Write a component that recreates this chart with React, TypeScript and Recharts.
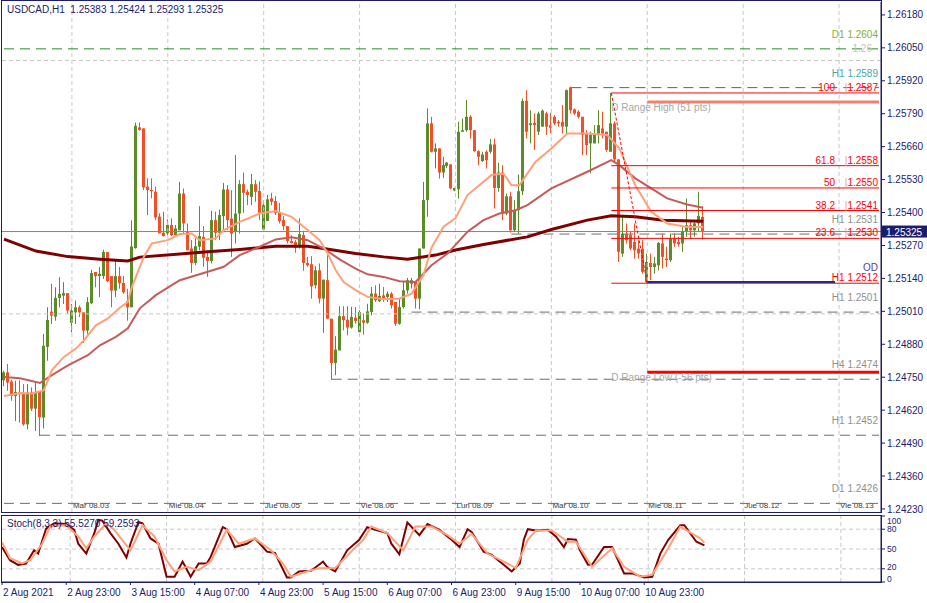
import React from 'react';
import { ComposedChart, Bar, Line, XAxis, YAxis, ReferenceLine } from 'recharts';

const FONT = "'Liberation Sans', Arial, sans-serif";
const NAVY = '#1c1c6e';
const UP = '#5a8c2a';
const DOWN = '#f34e25';
const GRID = '#c8c8c8';
const LEVEL_GRAY = '#6e6e6e';
const LEVEL_GREEN = '#2a8a2a';

// ---- data ----
const chartTitle = 'USDCAD,H1  1.25383 1.25424 1.25293 1.25325';
const stochTitle = 'Stoch(8,3,3) 55.5270 59.2593';

// H1 candles, first bar 2 Aug 2021 07:00
const opens = [
  1.24738, 1.24769, 1.24733, 1.24676, 1.2469, 1.24686, 1.24564, 1.2469, 1.24626, 1.24692,
  1.24591, 1.2487, 1.25009, 1.24989, 1.25063, 1.25072, 1.25082, 1.24964, 1.25006, 1.25026,
  1.25006, 1.24934, 1.25042, 1.25165, 1.25149, 1.25149, 1.25244, 1.25149, 1.25092, 1.25149,
  1.25122, 1.2505, 1.25026, 1.2526, 1.25736, 1.25732, 1.25502, 1.25489, 1.25482, 1.25384,
  1.2532, 1.25318, 1.25351, 1.25311, 1.2533, 1.25475, 1.25324, 1.25258, 1.25201, 1.25265,
  1.25304, 1.25225, 1.25209, 1.2537, 1.2532, 1.25386, 1.25491, 1.25376, 1.25324, 1.25396,
  1.25512, 1.25482, 1.25462, 1.25512, 1.25485, 1.25333, 1.25367, 1.25456, 1.25445, 1.25399,
  1.2537, 1.25346, 1.25288, 1.25284, 1.25265, 1.25311, 1.25201, 1.25196, 1.25113, 1.25172,
  1.2506, 1.25133, 1.24981, 1.24806, 1.24856, 1.24991, 1.24977, 1.24946, 1.24985, 1.24928,
  1.24975, 1.24965, 1.25007, 1.2508, 1.2505, 1.25073, 1.25067, 1.2508, 1.25047, 1.24961,
  1.25027, 1.25093, 1.25119, 1.25126, 1.2506, 1.25258, 1.25449, 1.25752, 1.2564, 1.25653,
  1.25558, 1.25584, 1.2559, 1.25487, 1.25492, 1.25719, 1.25725, 1.25778, 1.25725, 1.25642,
  1.25603, 1.2564, 1.2564, 1.25669, 1.25497, 1.25558, 1.25396, 1.25464, 1.2533, 1.25409,
  1.25484, 1.25841, 1.25745, 1.25754, 1.25719, 1.25739, 1.25791, 1.25745, 1.25778, 1.25758,
  1.25758, 1.25739, 1.25894, 1.25807, 1.25798, 1.25778, 1.25712, 1.25673, 1.25673, 1.25706,
  1.25732, 1.25719, 1.2564, 1.25752, 1.2561, 1.25238, 1.25315, 1.25311, 1.25284, 1.25258,
  1.25258, 1.25126, 1.25201, 1.25185, 1.25192, 1.25278, 1.25218, 1.25212, 1.25298, 1.25284,
  1.25278, 1.25324, 1.2535, 1.2533, 1.25357, 1.25383,
];
const highs = [
  1.24775, 1.24802, 1.2474, 1.24736, 1.24738, 1.24723, 1.24723, 1.2471, 1.24729, 1.24692,
  1.24921, 1.25026, 1.25119, 1.25105, 1.25145, 1.25125, 1.25082, 1.25039, 1.25053, 1.25033,
  1.25006, 1.25066, 1.25174, 1.25165, 1.25185, 1.25253, 1.25244, 1.25149, 1.25211, 1.25185,
  1.25149, 1.25099, 1.25369, 1.25755, 1.25755, 1.25732, 1.25535, 1.25535, 1.25502, 1.25397,
  1.25403, 1.25373, 1.25377, 1.25351, 1.25521, 1.25495, 1.25357, 1.25291, 1.25298, 1.25425,
  1.25346, 1.25251, 1.25407, 1.25403, 1.25412, 1.25517, 1.25508, 1.25488, 1.25627, 1.25528,
  1.25558, 1.25491, 1.25552, 1.25528, 1.25523, 1.25449, 1.25469, 1.25478, 1.25465, 1.25438,
  1.25386, 1.25346, 1.25311, 1.25291, 1.25377, 1.25328, 1.25225, 1.25228, 1.25188, 1.25199,
  1.25135, 1.25232, 1.24981, 1.24912, 1.2503, 1.2503, 1.2503, 1.25028, 1.25027, 1.25014,
  1.25001, 1.2504, 1.25106, 1.25113, 1.25119, 1.25106, 1.25089, 1.25086, 1.25047, 1.2506,
  1.25126, 1.25142, 1.25142, 1.25126, 1.25258, 1.25521, 1.25811, 1.25778, 1.25673, 1.25653,
  1.2562, 1.256, 1.2559, 1.25498, 1.25758, 1.25771, 1.25844, 1.25784, 1.25725, 1.25646,
  1.2564, 1.25646, 1.2569, 1.25692, 1.25597, 1.25587, 1.25475, 1.25482, 1.25449, 1.2555,
  1.2585, 1.25883, 1.25804, 1.25791, 1.25798, 1.25807, 1.25798, 1.25794, 1.25785, 1.25765,
  1.25824, 1.25886, 1.25897, 1.25811, 1.25804, 1.25778, 1.25725, 1.25719, 1.25745, 1.25804,
  1.25798, 1.25719, 1.25872, 1.2576, 1.2561, 1.2539, 1.25357, 1.25324, 1.25357, 1.25291,
  1.25291, 1.25238, 1.25238, 1.25225, 1.25284, 1.25317, 1.25265, 1.25317, 1.25317, 1.25304,
  1.25344, 1.25455, 1.25363, 1.25363, 1.25482, 1.25424,
];
const lows = [
  1.24714, 1.24696, 1.24657, 1.24577, 1.24571, 1.24558, 1.24544, 1.24617, 1.24538, 1.24518,
  1.24548, 1.24815, 1.2496, 1.24973, 1.25026, 1.25039, 1.25, 1.24927, 1.2496, 1.24987,
  1.24885, 1.24921, 1.25039, 1.25105, 1.25066, 1.25138, 1.25125, 1.25026, 1.25066, 1.25099,
  1.25079, 1.24973, 1.25026, 1.25257, 1.25723, 1.25489, 1.2539, 1.25456, 1.2537, 1.25318,
  1.25305, 1.25311, 1.25307, 1.25307, 1.2533, 1.25317, 1.25251, 1.25162, 1.25192, 1.25251,
  1.25186, 1.25146, 1.25199, 1.25291, 1.25291, 1.2533, 1.2533, 1.25225, 1.25278, 1.25317,
  1.25399, 1.25429, 1.25429, 1.25442, 1.2537, 1.2533, 1.25367, 1.25429, 1.2539, 1.25357,
  1.2533, 1.25278, 1.25278, 1.25241, 1.25258, 1.2517, 1.25186, 1.2506, 1.251, 1.25041,
  1.24925, 1.24981, 1.2474, 1.24758, 1.24856, 1.24935, 1.24916, 1.24942, 1.24961, 1.24928,
  1.24918, 1.24961, 1.24994, 1.25047, 1.25047, 1.25047, 1.25047, 1.25021, 1.24952, 1.24957,
  1.25021, 1.2508, 1.251, 1.25021, 1.25018, 1.25258, 1.25383, 1.25637, 1.25574, 1.25534,
  1.25537, 1.25576, 1.25492, 1.25484, 1.25455, 1.25719, 1.25719, 1.25692, 1.2564, 1.25587,
  1.256, 1.25574, 1.25633, 1.25416, 1.25482, 1.2537, 1.25389, 1.25321, 1.25324, 1.25317,
  1.25469, 1.25693, 1.25673, 1.25647, 1.25706, 1.25739, 1.25706, 1.25712, 1.25745, 1.25739,
  1.25712, 1.25712, 1.25791, 1.25785, 1.25771, 1.25627, 1.25627, 1.25554, 1.25673, 1.25673,
  1.25693, 1.2564, 1.2564, 1.256, 1.25205, 1.25225, 1.25278, 1.25251, 1.25218, 1.25218,
  1.25159, 1.25121, 1.25133, 1.25159, 1.25172, 1.25179, 1.25185, 1.25205, 1.25265, 1.25265,
  1.25245, 1.25304, 1.25297, 1.25304, 1.25324, 1.25293,
];
const closes = [
  1.24769, 1.24729, 1.24676, 1.24692, 1.24683, 1.24564, 1.2469, 1.24626, 1.24692, 1.24593,
  1.24874, 1.24976, 1.24993, 1.25063, 1.25079, 1.25082, 1.25013, 1.25013, 1.25026, 1.25006,
  1.24934, 1.25046, 1.25161, 1.25149, 1.25158, 1.25244, 1.25129, 1.25092, 1.25149, 1.25121,
  1.25085, 1.25026, 1.25266, 1.25742, 1.25726, 1.25499, 1.25489, 1.25486, 1.25381, 1.25318,
  1.25307, 1.25351, 1.25311, 1.25337, 1.25475, 1.25357, 1.25251, 1.25201, 1.25267, 1.25307,
  1.25222, 1.25209, 1.2537, 1.2532, 1.2539, 1.25491, 1.2537, 1.25317, 1.25396, 1.25512,
  1.25478, 1.25469, 1.25512, 1.25482, 1.25399, 1.25429, 1.25452, 1.25442, 1.25399, 1.25366,
  1.25346, 1.25288, 1.2528, 1.25262, 1.25315, 1.25201, 1.25192, 1.25109, 1.25172, 1.2506,
  1.25135, 1.24981, 1.24806, 1.24859, 1.24991, 1.24975, 1.24946, 1.24988, 1.24972, 1.25007,
  1.24965, 1.2501, 1.2508, 1.25054, 1.25071, 1.2506, 1.2508, 1.25034, 1.24961, 1.25027,
  1.25093, 1.25133, 1.25133, 1.2506, 1.25258, 1.25449, 1.25752, 1.2564, 1.25653, 1.25558,
  1.25587, 1.25597, 1.25495, 1.25497, 1.25719, 1.25725, 1.25778, 1.25725, 1.25642, 1.2562,
  1.25629, 1.25607, 1.25669, 1.25497, 1.25558, 1.25396, 1.25464, 1.2533, 1.25409, 1.25484,
  1.2584, 1.25719, 1.25752, 1.25745, 1.25791, 1.25802, 1.25739, 1.25735, 1.25752, 1.25752,
  1.25739, 1.25883, 1.25804, 1.25791, 1.25778, 1.25706, 1.25666, 1.25706, 1.25712, 1.25745,
  1.25712, 1.25647, 1.25752, 1.2561, 1.25245, 1.25317, 1.25291, 1.25258, 1.25251, 1.25238,
  1.25166, 1.25205, 1.25185, 1.25199, 1.2528, 1.25225, 1.25212, 1.25298, 1.25278, 1.25275,
  1.25324, 1.2535, 1.2533, 1.25357, 1.25386, 1.25325,
];

// moving averages: [bar index, price]
const fastMa: [number, number][] = [
  [0, 1.24676], [4, 1.24688], [7, 1.24686], [10, 1.24699], [12, 1.24778], [15, 1.2483], [18, 1.24863],
  [20, 1.24896], [23, 1.24955], [26, 1.24982], [29, 1.25024], [31, 1.25047], [32, 1.25106], [35, 1.25225],
  [37, 1.25278], [41, 1.25291], [44, 1.25315], [47, 1.25317], [49, 1.25291], [53, 1.25298], [55, 1.25331],
  [59, 1.25363], [64, 1.25396], [68, 1.25406], [72, 1.25383], [76, 1.25331], [79, 1.25291], [81, 1.25239],
  [83, 1.25173], [85, 1.25126], [88, 1.25094], [91, 1.25067], [95, 1.25058], [99, 1.25061], [102, 1.2508],
  [105, 1.25153], [107, 1.25261], [110, 1.25344], [113, 1.25377], [116, 1.25469], [120, 1.25521],
  [122, 1.25548], [125, 1.25554], [127, 1.25508], [129, 1.25508], [133, 1.256], [137, 1.25653],
  [141, 1.25712], [146, 1.25712], [151, 1.25706], [154, 1.25653], [158, 1.25508], [162, 1.25403],
  [166, 1.25357], [171, 1.25343], [175, 1.25343],
];
const midMa: [number, number][] = [
  [0, 1.24751], [4, 1.24746], [9, 1.24727], [12, 1.24758], [16, 1.24797], [21, 1.24837], [24, 1.24876],
  [28, 1.24909], [31, 1.24943], [34, 1.25022], [38, 1.25074], [44, 1.25133], [51, 1.25166], [55, 1.25186],
  [59, 1.25232], [64, 1.25265], [68, 1.25294], [72, 1.25302], [76, 1.25291], [80, 1.25258], [84, 1.25215],
  [88, 1.25179], [91, 1.25156], [95, 1.25146], [99, 1.25129], [103, 1.25126], [107, 1.25192],
  [111, 1.25238], [116, 1.25324], [120, 1.2537], [124, 1.25396], [128, 1.25409], [131, 1.25429],
  [137, 1.25495], [146, 1.25561], [152, 1.25607], [154, 1.25587], [158, 1.25535], [162, 1.25495],
  [166, 1.25456], [171, 1.25432], [175, 1.25419],
];
const slowMa: [number, number][] = [
  [0, 1.25295], [8, 1.25248], [16, 1.25226], [24, 1.25216], [31, 1.25209], [34, 1.25224], [44, 1.25236],
  [51, 1.25245], [59, 1.25254], [68, 1.25267], [76, 1.25267], [80, 1.25258], [88, 1.25238], [95, 1.25225],
  [101, 1.25216], [108, 1.25232], [113, 1.25252], [120, 1.25274], [131, 1.25304], [137, 1.25333],
  [146, 1.2537], [152, 1.25387], [158, 1.25383], [165, 1.2537], [175, 1.25366],
];

const stochK: [number, number][] = [
  [0, 53], [2, 33], [4, 26], [6, 28], [8, 48], [9, 43], [11, 81], [13, 89], [16, 88], [18, 79], [19, 58],
  [21, 43], [23, 74], [24, 94], [25, 93], [27, 74], [29, 58], [31, 37], [32, 58], [34, 91], [35, 89],
  [37, 66], [39, 58], [41, 8], [43, 8], [45, 31], [47, 8], [49, 28], [51, 28], [52, 38], [55, 83],
  [56, 80], [58, 53], [61, 58], [63, 66], [65, 53], [66, 46], [68, 44], [71, 7], [72, 7], [74, 16],
  [77, 17], [80, 31], [81, 23], [83, 16], [86, 48], [89, 64], [91, 83], [93, 79], [96, 74], [97, 58],
  [99, 42], [101, 90], [104, 71], [106, 88], [109, 79], [112, 64], [114, 53], [116, 80], [117, 76],
  [120, 46], [122, 41], [125, 26], [127, 16], [129, 28], [130, 64], [131, 80], [133, 78], [136, 79],
  [138, 69], [140, 53], [141, 65], [143, 64], [144, 48], [146, 26], [147, 26], [150, 53], [152, 53],
  [155, 13], [157, 13], [160, 7], [162, 8], [164, 43], [166, 64], [169, 86], [170, 86], [173, 61],
  [175, 55.527],
];
const stochD: [number, number][] = [
  [0, 60], [2, 36], [5, 28], [7, 33], [10, 58], [12, 84], [16, 86], [19, 69], [21, 51], [23, 69], [26, 89],
  [28, 79], [32, 48], [35, 86], [38, 69], [41, 33], [43, 16], [46, 23], [49, 18], [52, 31], [56, 79],
  [59, 58], [63, 66], [67, 48], [70, 28], [72, 8], [76, 16], [79, 21], [83, 21], [87, 46], [90, 64],
  [92, 84], [96, 74], [100, 48], [103, 84], [107, 84], [111, 71], [114, 58], [117, 73], [121, 43],
  [126, 28], [128, 21], [131, 64], [133, 78], [137, 78], [141, 61], [143, 61], [147, 23], [152, 51],
  [155, 23], [159, 8], [162, 11], [166, 51], [169, 84], [174, 66], [175, 59.2593],
];

const priceTicks = [
  1.2423, 1.2436, 1.2449, 1.2462, 1.2475, 1.2488, 1.2501, 1.2514, 1.2527, 1.254, 1.2553, 1.2566,
  1.2579, 1.2592, 1.2605, 1.2618,
];
const roundPrices = [1.25, 1.26];
const stochTicks = [0, 20, 50, 80, 100];
const stochLevels = [20, 50, 80];
const timeTickIdx = [0, 16, 32, 48, 64, 80, 96, 112, 128, 144, 160];
const timeLabels = [
  '2 Aug 2021', '2 Aug 23:00', '3 Aug 15:00', '4 Aug 07:00', '4 Aug 23:00', '5 Aug 15:00',
  '6 Aug 07:00', '6 Aug 23:00', '9 Aug 15:00', '10 Aug 07:00', '10 Aug 23:00',
];
const dayIdx = [17, 41, 65, 89, 113, 137, 161, 185, 209];
const dayNames = [
  'Mar 08.03', 'Mie 08.04', 'Jue 08.05', 'Vie 08.06', 'Lun 08.09', 'Mar 08.10', 'Mie 08.11',
  'Jue 08.12', 'Vie 08.13',
];

// support / resistance levels
const levelNames = ['D1 1.2604', 'H1 1.2589', 'H1 1.2531', 'H1 1.2501', 'H4 1.2474', 'H1 1.2452', 'D1 1.2426'];
const levelPrices = [1.26046, 1.25893, 1.25315, 1.25007, 1.24742, 1.24521, 1.24252];
const levelStart = [0, 142, 127, 102, 82, 9, 0];

// fibonacci retracement from the 10 Aug high to the 11 Aug low
const fibRatios = ['100', '61.8', '50', '38.2', '23.6', '0'];
const fibPrices = [1.25872, 1.25585, 1.25497, 1.25408, 1.25298, 1.25121];
const fibTexts = ['1.2587', '1.2558', '1.2550', '1.2541', '1.2530', '1.2512'];
const FIB_FROM = 152;
const FIB_TO = 161;

const rangeNames = ['D Range High (51 pts)', 'D Range Low (-56 pts)'];
const rangePrices = [1.25836, 1.2477];
const RANGE_FROM = 161;
const OD_PRICE = 1.25126;
const OD_TO = 208;
const BID = 1.25325;

const SLOTS = 220;
const LAST = SLOTS - 1;
const PRICE_MIN = 1.24218;
const PRICE_MAX = 1.26231;

const fastMap = new Map(fastMa);
const midMap = new Map(midMa);
const slowMap = new Map(slowMa);
const kMap = new Map(stochK);
const dMap = new Map(stochD);

const rows = Array.from({ length: SLOTS }, (_, i) => {
  const has = i < closes.length;
  return {
    i,
    range: has ? [lows[i], highs[i]] : null,
    open: has ? opens[i] : null,
    high: has ? highs[i] : null,
    low: has ? lows[i] : null,
    close: has ? closes[i] : null,
    fast: fastMap.get(i) ?? null,
    mid: midMap.get(i) ?? null,
    slow: slowMap.get(i) ?? null,
  };
});

const stochRows = Array.from({ length: SLOTS }, (_, i) => ({
  i,
  k: kMap.get(i) ?? null,
  d: dMap.get(i) ?? null,
}));

function Candle(props: any) {
  const { x, y, width, height, payload } = props;
  if (!payload || payload.close == null || !isFinite(y) || !isFinite(height)) return null;
  const { open, close, high, low } = payload;
  const top = Math.min(y, y + height);
  const bot = Math.max(y, y + height);
  const span = high - low || 1;
  const toY = (v: number) => top + ((high - v) / span) * (bot - top);
  const cx = Math.floor(x + width / 2) + 0.5;
  const color = close >= open ? UP : DOWN;
  const yo = toY(open);
  const yc = toY(close);
  const bt = Math.min(yo, yc);
  const bh = Math.max(1, Math.abs(yc - yo));
  return (
    <g>
      <line x1={cx} x2={cx} y1={top} y2={bot} stroke={color} strokeWidth={1} />
      <rect x={cx - 1.5} y={bt} width={3} height={bh} fill={color} />
    </g>
  );
}

function EdgeText({ viewBox, text, color, dy, inset = 3, extra }: any) {
  if (!viewBox) return null;
  const r = viewBox.x + viewBox.width - inset;
  return (
    <g fontFamily={FONT} fontSize={10}>
      {extra && (
        <text x={r - 6} y={viewBox.y + 3.5} textAnchor="end" fill="#c4c4c4">
          {extra}
        </text>
      )}
      <text x={r} y={viewBox.y + dy} textAnchor="end" fill={color}>
        {text}
      </text>
    </g>
  );
}

function FibText({ viewBox, ratio, price, zero }: any) {
  if (!viewBox) return null;
  const r = viewBox.x + viewBox.width - 1;
  const y = viewBox.y - 2;
  if (zero) {
    return (
      <g fontFamily={FONT} fontSize={10}>
        <text x={r} y={y} textAnchor="end" fill="#ff0000">{`H1 ${price}`}</text>
        <text x={r} y={y - 10} textAnchor="end" fill="#5a3d9a">OD</text>
      </g>
    );
  }
  return (
    <g fontFamily={FONT} fontSize={10}>
      <text x={r - 43} y={y} textAnchor="end" fill="#ff0000">{ratio}</text>
      <text x={r - 32} y={y} textAnchor="middle" fill="#ffa040">|</text>
      <text x={r} y={y} textAnchor="end" fill="#ff0000">{price}</text>
    </g>
  );
}

function LeftText({ viewBox, text }: any) {
  if (!viewBox) return null;
  return (
    <text x={viewBox.x} y={viewBox.y + 8.5} fill="#a8a8a8" fontSize={10} fontFamily={FONT}>
      {text}
    </text>
  );
}

function PriceBox({ viewBox, text }: any) {
  if (!viewBox) return null;
  const x = viewBox.x + viewBox.width + 1;
  const y = viewBox.y;
  return (
    <g>
      <rect x={x} y={y - 6} width={46} height={12} fill={NAVY} />
      <text x={x + 4} y={y + 4} fill="#ffffff" fontSize={10} fontFamily={FONT}>
        {text}
      </text>
    </g>
  );
}

function DayText({ viewBox, text }: any) {
  if (!viewBox) return null;
  return (
    <text x={viewBox.x + 1} y={viewBox.y + viewBox.height - 4} fill="#404040" fontSize={8} fontFamily={FONT}>
      {text}
    </text>
  );
}

function TimeTick({ x, y, payload }: any) {
  const label = timeLabels[timeTickIdx.indexOf(payload.value)];
  return (
    <text x={x + 1} y={y + 9} fill={NAVY} fontSize={10} fontFamily={FONT}>
      {label}
    </text>
  );
}

function StochTick({ x, y, payload }: any) {
  const v = payload.value;
  const dy = v === 100 ? 4.5 : v === 0 ? -3.5 : v === 20 ? -1.5 : 0;
  return (
    <text x={x} y={y + dy + 3} fill={NAVY} fontSize={8.5} fontFamily={FONT}>
      {v}
    </text>
  );
}

export default function App() {
  return (
    <div
      style={{
        position: 'absolute',
        left: 0,
        top: 0,
        width: 927,
        height: 603,
        background: '#ffffff',
        overflow: 'hidden',
        fontFamily: FONT,
      }}
    >
      <ComposedChart width={927} height={514} data={rows} margin={{ top: 2, right: 0, bottom: 2, left: 2 }}>
        <XAxis dataKey="i" type="category" hide />
        <YAxis
          orientation="right"
          width={46}
          type="number"
          domain={[PRICE_MIN, PRICE_MAX]}
          allowDataOverflow
          ticks={priceTicks}
          interval={0}
          tickFormatter={(v: number) => v.toFixed(5)}
          tick={{ fill: NAVY, fontSize: 10, fontFamily: FONT }}
          tickSize={4}
          tickMargin={2}
          tickLine={{ stroke: NAVY }}
          axisLine={{ stroke: NAVY }}
        />
        {dayIdx.map((d, k) => (
          <ReferenceLine
            key={`day${d}`}
            x={d}
            stroke={GRID}
            strokeDasharray="4 3"
            label={<DayText text={dayNames[k]} />}
          />
        ))}
        {roundPrices.map((p) => (
          <ReferenceLine key={`rp${p}`} y={p} stroke={GRID} strokeDasharray="4 3" />
        ))}
        <ReferenceLine y={BID} stroke="#7a8890" strokeWidth={1} label={<PriceBox text={BID.toFixed(5)} />} />
        {levelPrices.map((p, k) => (
          <ReferenceLine
            key={`lvl${k}`}
            segment={[
              { x: levelStart[k], y: p },
              { x: LAST, y: p },
            ]}
            ifOverflow="visible"
            stroke={k < 2 ? LEVEL_GREEN : LEVEL_GRAY}
            strokeDasharray="10 6"
            label={
              <EdgeText
                text={levelNames[k]}
                color={k === 0 ? '#86ae2e' : k === 1 ? '#4aa8a0' : '#909090'}
                dy={-11}
                inset={1}
                extra={k === 0 ? '1.26' : undefined}
              />
            }
          />
        ))}
        <Bar dataKey="range" barSize={3} isAnimationActive={false} shape={(p: any) => <Candle {...p} />} />
        <Line dataKey="slow" stroke="#800000" strokeWidth={3} dot={false} connectNulls isAnimationActive={false} />
        <Line dataKey="mid" stroke="#c85a5a" strokeWidth={2} dot={false} connectNulls isAnimationActive={false} />
        <Line dataKey="fast" stroke="#ffa07a" strokeWidth={2} dot={false} connectNulls isAnimationActive={false} />
        {fibPrices.map((p, k) => (
          <ReferenceLine
            key={`fib${k}`}
            segment={[
              { x: FIB_FROM, y: p },
              { x: LAST, y: p },
            ]}
            ifOverflow="visible"
            stroke="#ff0000"
            strokeWidth={1}
            label={<FibText ratio={fibRatios[k]} price={fibTexts[k]} zero={k === fibPrices.length - 1} />}
          />
        ))}
        <ReferenceLine
          segment={[
            { x: FIB_FROM, y: fibPrices[0] },
            { x: FIB_TO, y: fibPrices[fibPrices.length - 1] },
          ]}
          ifOverflow="visible"
          stroke="#ff0000"
          strokeDasharray="3 2"
        />
        <ReferenceLine
          segment={[
            { x: RANGE_FROM, y: OD_PRICE },
            { x: OD_TO, y: OD_PRICE },
          ]}
          ifOverflow="visible"
          stroke="#3c1e8c"
          strokeWidth={2}
        />
        {rangePrices.map((p, k) => (
          <ReferenceLine
            key={`rng${k}`}
            segment={[
              { x: RANGE_FROM, y: p },
              { x: LAST, y: p },
            ]}
            ifOverflow="visible"
            stroke={k === 0 ? '#f08070' : '#ff0000'}
            strokeWidth={3}
          />
        ))}
        {rangePrices.map((p, k) => (
          <ReferenceLine
            key={`rngl${k}`}
            segment={[
              { x: FIB_FROM, y: p },
              { x: LAST, y: p },
            ]}
            ifOverflow="visible"
            stroke="none"
            strokeOpacity={0}
            label={<LeftText text={rangeNames[k]} />}
          />
        ))}
      </ComposedChart>

      <div style={{ position: 'absolute', left: 0, top: 514 }}>
        <ComposedChart width={927} height={89} data={stochRows} margin={{ top: 2, right: 0, bottom: 0, left: 2 }}>
          <XAxis
            dataKey="i"
            type="category"
            ticks={timeTickIdx}
            interval={0}
            height={21}
            tick={<TimeTick />}
            tickSize={3}
            tickLine={{ stroke: NAVY }}
            axisLine={{ stroke: NAVY }}
          />
          <YAxis
            orientation="right"
            width={46}
            type="number"
            domain={[0, 100]}
            ticks={stochTicks}
            interval={0}
            tick={<StochTick />}
            tickSize={4}
            tickMargin={2}
            tickLine={{ stroke: NAVY }}
            axisLine={{ stroke: NAVY }}
          />
          {dayIdx.map((d) => (
            <ReferenceLine key={`sday${d}`} x={d} stroke={GRID} strokeDasharray="4 3" />
          ))}
          {stochLevels.map((v) => (
            <ReferenceLine key={`lvl${v}`} y={v} stroke={GRID} strokeDasharray="4 3" />
          ))}
          <Line dataKey="k" stroke="#800000" strokeWidth={2} dot={false} connectNulls isAnimationActive={false} />
          <Line dataKey="d" stroke="#ffa07a" strokeWidth={2} dot={false} connectNulls isAnimationActive={false} />
        </ComposedChart>
      </div>

      <div
        style={{
          position: 'absolute',
          left: 1,
          top: 0,
          width: 881,
          height: 513,
          boxSizing: 'border-box',
          border: `1px solid ${NAVY}`,
          pointerEvents: 'none',
        }}
      />
      <div
        style={{
          position: 'absolute',
          left: 1,
          top: 515,
          width: 881,
          height: 68,
          boxSizing: 'border-box',
          border: `1px solid ${NAVY}`,
          pointerEvents: 'none',
        }}
      />
      <div style={{ position: 'absolute', left: 7, top: 4, fontSize: 10, color: NAVY, whiteSpace: 'pre', lineHeight: '12px' }}>
        {chartTitle}
      </div>
      <div style={{ position: 'absolute', left: 7, top: 518, fontSize: 10, color: NAVY, whiteSpace: 'pre', lineHeight: '12px' }}>
        {stochTitle}
      </div>
    </div>
  );
}
